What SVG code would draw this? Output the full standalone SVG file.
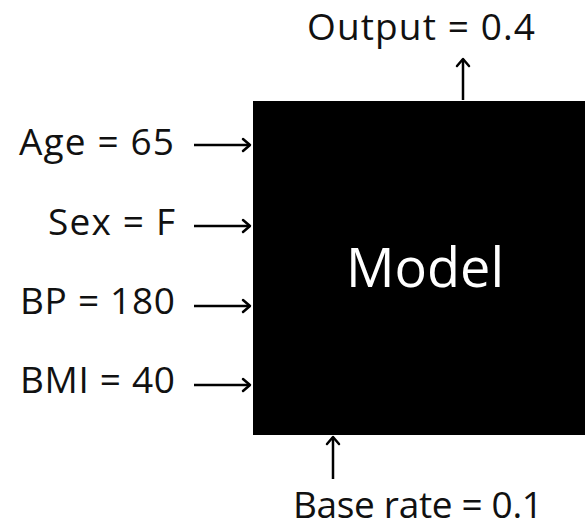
<svg xmlns="http://www.w3.org/2000/svg" width="585" height="529" viewBox="0 0 585 529">
<defs>
<style>
.lbl{font-family:"Open Sans","Noto Sans","DejaVu Sans",sans-serif;font-size:37px;fill:#111}
.conn line{stroke:#000;stroke-width:2.5;fill:none}
.conn path{stroke:#000;stroke-width:2.5;fill:none;stroke-linecap:round;stroke-linejoin:round}
</style>
</defs>
<rect width="585" height="529" fill="#fff"/>
<g id="model">
<rect x="253" y="101" width="332" height="334" fill="#000"/>
<text x="425" y="287" text-anchor="middle" style="font-family:'Open Sans','Noto Sans',sans-serif;font-size:54px;fill:#fff">Model</text>
</g>
<g id="age"><text class="lbl" x="174" y="155" text-anchor="end" textLength="155">Age = 65</text></g>
<g id="sex"><text class="lbl" x="175" y="235" text-anchor="end" textLength="127">Sex = F</text></g>
<g id="bp"><text class="lbl" x="175" y="314" text-anchor="end" textLength="155">BP = 180</text></g>
<g id="bmi"><text class="lbl" x="175" y="393" text-anchor="end" textLength="155">BMI = 40</text></g>
<g id="output"><text class="lbl" x="421" y="40" text-anchor="middle" textLength="228">Output = 0.4</text></g>
<g id="baserate"><text class="lbl" x="418" y="518" text-anchor="middle" textLength="250">Base rate = 0.1</text></g>
<g class="conn" id="connectors">
<line x1="194" y1="145" x2="250" y2="145"/><path d="M243,139 L250,145 L243,151"/>
<line x1="194" y1="226" x2="250" y2="226"/><path d="M243,220 L250,226 L243,232"/>
<line x1="194" y1="306" x2="250" y2="306"/><path d="M243,300 L250,306 L243,312"/>
<line x1="194" y1="385" x2="250" y2="385"/><path d="M243,379 L250,385 L243,391"/>
<line x1="463" y1="100" x2="463" y2="59"/><path d="M457,66 L463,59 L469,66"/>
<line x1="333" y1="479" x2="333" y2="437"/><path d="M327,444 L333,437 L339,444"/>
</g>
</svg>
